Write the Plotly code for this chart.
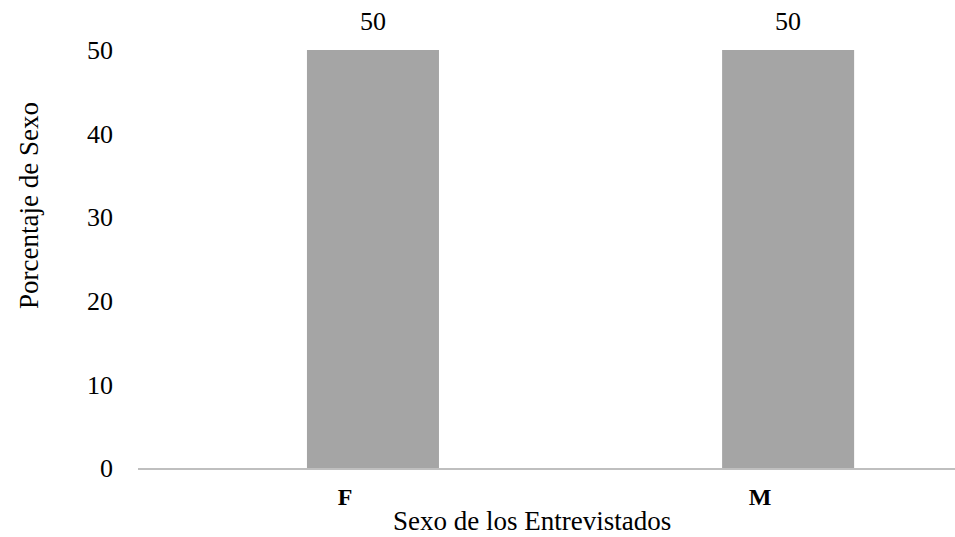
import plotly.graph_objects as go

categories = ["F", "M"]
values = [50, 50]
y_ticks = [0, 10, 20, 30, 40, 50]

font_family = "Liberation Serif, Times New Roman, serif"

fig = go.Figure()
fig.add_trace(
    go.Bar(
        x=categories,
        y=values,
        width=0.318,
        marker=dict(color="#a5a5a5", line=dict(width=0)),
        cliponaxis=False,
        hoverinfo="skip",
    )
)

# value labels above the bars
for c, v in zip(categories, values):
    fig.add_annotation(
        x=c, y=v, text=str(v), showarrow=False,
        yanchor="bottom", yshift=12,
        font=dict(family=font_family, size=26, color="#000000"),
    )

# axis titles (placed like the original, slightly off-centre)
fig.add_annotation(
    xref="paper", yref="paper", x=0.4823, y=-0.1268,
    xanchor="center", yanchor="middle", showarrow=False,
    text="Sexo de los Entrevistados",
    font=dict(family=font_family, size=27, color="#000000"),
)
fig.add_annotation(
    xref="paper", yref="paper", x=-0.1334, y=0.6268,
    xanchor="center", yanchor="middle", showarrow=False, textangle=-90,
    text="Porcentaje de Sexo",
    font=dict(family=font_family, size=27, color="#000000"),
)

fig.update_layout(
    width=955,
    height=537,
    margin=dict(l=138, r=0, t=50, b=69),
    plot_bgcolor="white",
    paper_bgcolor="white",
    showlegend=False,
    font=dict(family=font_family, color="#000000"),
)
fig.update_xaxes(
    range=[-0.566, 1.402],
    tickvals=[0, 1],
    ticktext=["<b>%s</b>" % c for c in categories],
    tickfont=dict(size=24),
    showline=True,
    linecolor="#bfbfbf",
    linewidth=2,
    showgrid=False,
    ticks="",
    ticklabelstandoff=6,
    ticklabelshift=-28,
)
fig.update_yaxes(
    range=[0, 50],
    tickvals=y_ticks,
    tickfont=dict(size=26),
    showgrid=False,
    zeroline=False,
    showline=False,
    ticks="",
    ticklabelstandoff=24,
)

fig.write_html(
    "out.html",
    config={"displayModeBar": False},
    post_script="document.body.style.margin='0px';document.body.style.overflow='hidden';",
)
